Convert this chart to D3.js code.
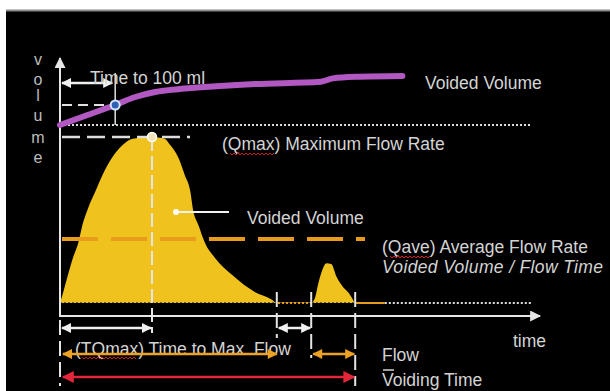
<!DOCTYPE html>
<html>
<head>
<meta charset="utf-8">
<script src="https://cdn.jsdelivr.net/npm/d3@7"></script>
<style>
  body { margin: 0; background: #fff; }
  svg { display: block; font-family: "Liberation Sans", Arial, sans-serif; }
</style>
</head>
<body>
<svg id="drawing_region"></svg>
<script>
// flow curve: time [s] / flow rate [ml/s]
const flowTime = [0, 0.4, 1, 1.6, 2.3, 2.8, 3.5, 4.4, 5.3, 6.5, 7.8, 9.1, 10.3, 11.5, 12.5, 13.1, 13.8, 14.8, 15.6, 16.3, 16.6, 17.3, 18.1, 19.4, 21.5, 24.4, 26.5, 27.1,
                  31.4, 31.9, 32.3, 32.8, 33.3, 33.9, 34.6, 35.4, 36.1, 36.5, 36.9, 40.6];
const flowRate = [0, 1.3, 3.4, 5.4, 7.3, 9.4, 11.4, 13.4, 15.4, 17.5, 19.0, 19.8, 19.9, 20, 19.9, 19.8, 19.0, 17.5, 15.4, 13.4, 11.4, 9.4, 7.3, 5.4, 3.4, 1.3, 0.4, 0,
                  0, 0.7, 2.4, 4.0, 4.8, 4.7, 3.1, 1.9, 1.2, 0.6, 0, 0];

// voided volume curve: time [s] / volume [ml]
const volumeTime = [0, 3.1, 6.9, 9.4, 11.9, 15, 18.1, 24.4, 32.6, 34.1, 36.9, 42.8];
const volumeMl = [0, 45, 100, 140, 165, 180, 190, 205, 216, 233, 241, 245];

// events on the time axis [s]: flow start, TQmax, pause start, pause end, flow end
const eventTime = [0, 11.5, 27.1, 31.4, 36.9];
const qValues = [20, 7.7];           // Qmax, Qave [ml/s]
const time100 = [6.9, 100];          // time to 100 ml [s], volume [ml]
const yLetters = ["v", "o", "l", "u", "m", "e"];

const config = { width: 610, height: 391 };

const svg = d3.select('#drawing_region')
    .attr('width', config.width)
    .attr('height', config.height);

// scales
const x = d3.scaleLinear().domain([0, 60]).range([60, 540]);
const yFlow = d3.scaleLinear().domain([0, 20]).range([303, 137]);
const yVol = d3.scaleLinear().domain([0, 100]).range([125, 105]);

const flowData = flowTime.map((t, i) => ({ t: t, q: flowRate[i] }));
const volData = volumeTime.map((t, i) => ({ t: t, v: volumeMl[i] }));
const [tStart, tQmax, tPause, tResume, tEnd] = eventTime;
const [qMax, qAve] = qValues;

// background
svg.append('rect').attr('x', 6).attr('y', 10).attr('width', config.width - 6).attr('height', config.height - 10).attr('fill', '#000');
svg.append('line').attr('x1', 6).attr('x2', config.width).attr('y1', 10.5).attr('y2', 10.5).attr('stroke', '#8a8a8a').attr('stroke-width', 2);

// arrow heads
const defs = svg.append('defs');
function marker(id, color, w, h) {
    defs.append('marker').attr('id', id)
        .attr('viewBox', '0 0 10 10').attr('refX', 9).attr('refY', 5)
        .attr('markerWidth', w).attr('markerHeight', h)
        .attr('markerUnits', 'userSpaceOnUse')
        .attr('orient', 'auto-start-reverse')
        .append('path').attr('d', 'M0,0 L10,5 L0,10 Z').attr('fill', color);
}
marker('aw', '#f0f0f0', 12, 10);
marker('ao', '#eda225', 12, 10);
marker('ar', '#e3263a', 14, 12);
marker('ax', '#e6e6e6', 13, 11);

function arrow(x1, x2, y, id, color, both) {
    svg.append('line')
        .attr('x1', x1).attr('x2', x2).attr('y1', y).attr('y2', y)
        .attr('stroke', color).attr('stroke-width', 2.5)
        .attr('marker-end', `url(#${id})`)
        .attr('marker-start', both ? `url(#${id})` : null);
}

function dashedV(t, y1, y2, dash) {
    svg.append('line')
        .attr('x1', x(t)).attr('x2', x(t)).attr('y1', y1).attr('y2', y2)
        .attr('stroke', '#e4e4e4').attr('stroke-width', 2)
        .attr('stroke-dasharray', dash);
}

function squiggle(x1, x2, y) {
    const pts = d3.range(x1, x2, 2).map((px, i) => [px, y + (i % 2 ? 1 : -1)]);
    svg.append('path').attr('d', d3.line()(pts))
        .attr('fill', 'none').attr('stroke', '#d02020').attr('stroke-width', 1);
}

// dotted baselines
svg.append('line')
    .attr('x1', x(0)).attr('x2', 532).attr('y1', yVol(0)).attr('y2', yVol(0))
    .attr('stroke', '#dcdcdc').attr('stroke-width', 2).attr('stroke-dasharray', '2,2');
svg.append('line')
    .attr('x1', x(40.6)).attr('x2', 532).attr('y1', yFlow(0)).attr('y2', yFlow(0))
    .attr('stroke', '#dcdcdc').attr('stroke-width', 2).attr('stroke-dasharray', '2,2');

// flow area
svg.append('path')
    .datum(flowData)
    .attr('d', d3.area().x(d => x(d.t)).y0(yFlow(0)).y1(d => yFlow(d.q)).curve(d3.curveMonotoneX))
    .attr('fill', '#efc21d');

// zero-flow segments
svg.append('path')
    .datum(flowData)
    .attr('d', d3.line().defined(d => d.q === 0).x(d => x(d.t)).y(d => yFlow(d.q)))
    .attr('fill', 'none').attr('stroke', '#e59c1f').attr('stroke-width', 2);

// serrated bottom of the area
svg.append('line')
    .attr('x1', x(tStart)).attr('x2', x(tEnd)).attr('y1', yFlow(0) + 0.5).attr('y2', yFlow(0) + 0.5)
    .attr('stroke', '#000').attr('stroke-width', 2).attr('stroke-dasharray', '2,2');

// Qmax guide
svg.append('line')
    .attr('x1', x(0) + 2).attr('x2', 190).attr('y1', yFlow(qMax)).attr('y2', yFlow(qMax))
    .attr('stroke', '#dedede').attr('stroke-width', 2.5).attr('stroke-dasharray', '18,7');

// vertical guides
dashedV(tQmax, yFlow(qMax), 333, '14,5');
dashedV(tStart, 320, 386, '15,6');
dashedV(tPause, 292, 338, '15,6');
dashedV(tResume, 292, 358, '15,6');
dashedV(tEnd, 292, 386, '15,6');

// Qave line
svg.append('line')
    .attr('x1', x(0) + 2).attr('x2', 365).attr('y1', yFlow(qAve)).attr('y2', yFlow(qAve))
    .attr('stroke', '#e99b1c').attr('stroke-width', 4).attr('stroke-dasharray', '36,13');

// axes
svg.append('line')
    .attr('x1', x(0)).attr('x2', x(0)).attr('y1', 317).attr('y2', 58)
    .attr('stroke', '#e6e6e6').attr('stroke-width', 2).attr('marker-end', 'url(#ax)');
svg.append('line')
    .attr('x1', x(0)).attr('x2', x(60)).attr('y1', 316).attr('y2', 316)
    .attr('stroke', '#e6e6e6').attr('stroke-width', 2).attr('marker-end', 'url(#ax)');

// time to 100 ml
svg.append('line')
    .attr('x1', x(0) + 2).attr('x2', x(time100[0]) - 4).attr('y1', yVol(time100[1])).attr('y2', yVol(time100[1]))
    .attr('stroke', '#e0e0e0').attr('stroke-width', 2).attr('stroke-dasharray', '10,6');
svg.append('line')
    .attr('x1', x(time100[0])).attr('x2', x(time100[0])).attr('y1', 73).attr('y2', yVol(0))
    .attr('stroke', '#e0e0e0').attr('stroke-width', 1.5);
arrow(x(0) + 2, x(time100[0]) - 3, 83, 'aw', '#f0f0f0', true);

// volume curve
svg.append('path')
    .datum(volData)
    .attr('d', d3.line().x(d => x(d.t)).y(d => yVol(d.v)).curve(d3.curveMonotoneX))
    .attr('fill', 'none').attr('stroke', '#b158c2').attr('stroke-width', 6)
    .attr('stroke-linecap', 'round');

// dots
svg.append('circle').attr('cx', x(time100[0])).attr('cy', yVol(time100[1])).attr('r', 4.5)
    .attr('fill', '#2d5fb5').attr('stroke', '#d4e4ff').attr('stroke-width', 2);
svg.append('circle').attr('cx', x(tQmax)).attr('cy', yFlow(qMax)).attr('r', 4.5)
    .attr('fill', '#f3e3b8').attr('stroke', '#fff').attr('stroke-width', 1.5);

// voided volume pointer
svg.append('line').attr('x1', 177).attr('x2', 229).attr('y1', 212).attr('y2', 212)
    .attr('stroke', '#f2f2f2').attr('stroke-width', 2);
svg.append('circle').attr('cx', 176).attr('cy', 212).attr('r', 3).attr('fill', '#fff');

// labels
const labels = svg.append('g').attr('fill', '#d4d4d4').attr('font-size', '17.5px');
function label(tx, ty, s, italic, spacing) {
    labels.append('text').attr('x', tx).attr('y', ty)
        .attr('font-style', italic ? 'italic' : null)
        .style('letter-spacing', spacing ? spacing + 'px' : null)
        .text(s);
}
label(90, 84, 'Time to 100 ml');
label(425, 89, 'Voided Volume');
label(222, 150, '(Qmax) Maximum Flow Rate');
label(247, 224, 'Voided Volume');
label(382, 253, '(Qave) Average Flow Rate');
label(382, 273, 'Voided Volume / Flow Time', true, 0.35);
label(513, 347, 'time');
label(75, 355, '(TQmax) Time to Max. Flow');
label(382, 361, 'Flow');
label(382, 386, 'Voiding Time');
svg.append('line').attr('x1', 383).attr('x2', 394).attr('y1', 370).attr('y2', 370)
    .attr('stroke', '#d4d4d4').attr('stroke-width', 1.5);

squiggle(230, 276, 154);
squiggle(390, 432, 257);
squiggle(82, 138, 358);

// y label letters
svg.append('g').selectAll('text')
    .data(yLetters)
    .join('text')
    .attr('x', 38)
    .attr('y', (d, i) => [65, 85, 101, 121, 143, 163][i])
    .attr('text-anchor', 'middle')
    .attr('fill', '#bdbdbd')
    .attr('font-size', '16px')
    .text(d => d);

// interval arrows under the axis
arrow(x(tStart) + 2, x(tQmax) - 1, 328, 'aw', '#f0f0f0', true);
arrow(x(tPause) + 2, x(tResume) - 1, 328, 'aw', '#f0f0f0', true);
arrow(x(tStart) + 3, x(tPause), 354, 'ao', '#eda225', true);
arrow(x(tResume) + 2, x(tEnd) - 1, 354, 'ao', '#eda225', true);
arrow(x(tStart) + 3, x(tEnd) - 1, 377, 'ar', '#e3263a', true);
</script>
</body>
</html>
